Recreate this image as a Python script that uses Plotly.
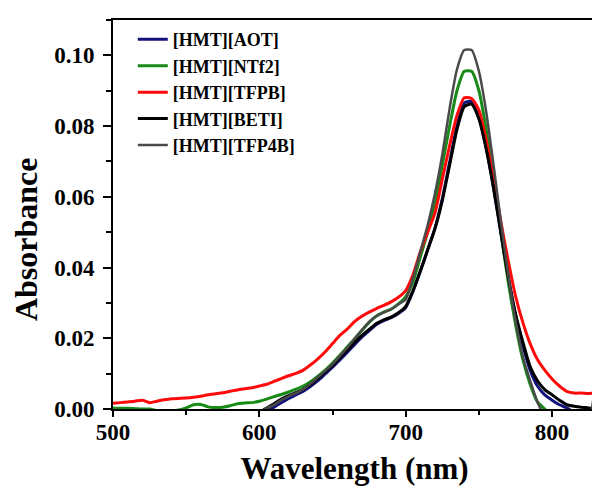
import plotly.graph_objects as go

# wavelength grid (nm)
wavelength = [
    500, 505, 510, 515, 520, 525, 530, 535, 540, 545,
    550, 555, 560, 565, 570, 575, 580, 585, 590, 595,
    600, 605, 610, 615, 620, 625, 630, 635, 640, 645,
    650, 655, 660, 665, 670, 675, 680, 685, 690, 695,
    700, 705, 710, 715, 720, 725, 730, 735, 740, 745,
    750, 755, 760, 765, 770, 775, 780, 785, 790, 795,
    800, 805, 810, 815, 820, 825, 830,
]

abs_aot = [
    -0.003, -0.003, -0.003, -0.003, -0.003, -0.003, -0.003, -0.003, -0.003, -0.003,
    -0.003, -0.003, -0.003, -0.003, -0.003, -0.003, -0.003, -0.003, -0.003, -0.003,
    -0.0020, -0.0005, 0.0005, 0.0018, 0.0030, 0.0040, 0.0050, 0.0064, 0.0080, 0.0099,
    0.0118, 0.0139, 0.0160, 0.0182, 0.0203, 0.0221, 0.0239, 0.0250, 0.0258, 0.0270,
    0.0287, 0.0333, 0.0390, 0.0450, 0.0512, 0.0595, 0.0698, 0.0800, 0.0865, 0.0870,
    0.0825, 0.0738, 0.0625, 0.0498, 0.0372, 0.0265, 0.0180, 0.0110, 0.0065, 0.0040,
    0.0025, 0.0012, 0.0003, -0.0010, -0.0020, -0.0020, -0.0020,
]

abs_ntf2 = [
    0.0003, 0.0002, 0.0002, 0.0001, 0.0000, 0.0000, -0.0005, -0.0008, -0.0005, -0.0003,
    0.0003, 0.0012, 0.0013, 0.0006, 0.0004, 0.0005, 0.0009, 0.0015, 0.0017, 0.0018,
    0.0022, 0.0028, 0.0035, 0.0041, 0.0048, 0.0056, 0.0065, 0.0077, 0.0093, 0.0110,
    0.0130, 0.0152, 0.0175, 0.0198, 0.0222, 0.0245, 0.0263, 0.0274, 0.0282, 0.0297,
    0.0318, 0.0360, 0.0430, 0.0500, 0.0580, 0.0690, 0.0800, 0.0900, 0.0955, 0.0955,
    0.0900, 0.0790, 0.0650, 0.0500, 0.0360, 0.0240, 0.0140, 0.0070, 0.0020, 0.0000,
    -0.0020, -0.0030, -0.0030, -0.0030, -0.0030, -0.0030, -0.0030,
]

abs_tfpb = [
    0.0016, 0.0018, 0.0020, 0.0022, 0.0025, 0.0018, 0.0022, 0.0026, 0.0029, 0.0030,
    0.0031, 0.0033, 0.0036, 0.0040, 0.0043, 0.0046, 0.0050, 0.0054, 0.0057, 0.0060,
    0.0065, 0.0070, 0.0078, 0.0086, 0.0094, 0.0101, 0.0110, 0.0125, 0.0142, 0.0162,
    0.0185, 0.0208, 0.0226, 0.0247, 0.0262, 0.0274, 0.0284, 0.0293, 0.0303, 0.0316,
    0.0335, 0.0380, 0.0445, 0.0500, 0.0555, 0.0650, 0.0745, 0.0830, 0.0880, 0.0878,
    0.0845, 0.0760, 0.0650, 0.0530, 0.0420, 0.0320, 0.0245, 0.0185, 0.0140, 0.0110,
    0.0085, 0.0065, 0.0050, 0.0045, 0.0045, 0.0044, 0.0045,
]

abs_beti = [
    -0.003, -0.003, -0.003, -0.003, -0.003, -0.003, -0.003, -0.003, -0.003, -0.003,
    -0.003, -0.003, -0.003, -0.003, -0.003, -0.003, -0.003, -0.003, -0.003, -0.003,
    -0.0010, 0.0003, 0.0015, 0.0028, 0.0038, 0.0046, 0.0056, 0.0070, 0.0087, 0.0105,
    0.0124, 0.0145, 0.0166, 0.0188, 0.0208, 0.0225, 0.0242, 0.0252, 0.0260, 0.0272,
    0.0290, 0.0335, 0.0390, 0.0450, 0.0510, 0.0590, 0.0690, 0.0790, 0.0855, 0.0862,
    0.0820, 0.0735, 0.0625, 0.0500, 0.0375, 0.0270, 0.0190, 0.0120, 0.0080, 0.0055,
    0.0040, 0.0025, 0.0012, 0.0008, 0.0005, 0.0003, 0.0000,
]

abs_tfp4b = [
    -0.003, -0.003, -0.003, -0.003, -0.003, -0.003, -0.003, -0.003, -0.003, -0.003,
    -0.003, -0.003, -0.003, -0.003, -0.003, -0.003, -0.003, -0.003, -0.003, -0.003,
    -0.0010, 0.0002, 0.0012, 0.0025, 0.0036, 0.0045, 0.0056, 0.0072, 0.0090, 0.0108,
    0.0127, 0.0150, 0.0173, 0.0198, 0.0223, 0.0246, 0.0263, 0.0273, 0.0282, 0.0296,
    0.0310, 0.0370, 0.0445, 0.0520, 0.0610, 0.0720, 0.0850, 0.0960, 0.1015, 0.1015,
    0.0955, 0.0840, 0.0690, 0.0530, 0.0380, 0.0250, 0.0150, 0.0080, 0.0020, -0.0020,
    -0.0030, -0.0030, -0.0030, -0.0030, -0.0030, -0.0030, 0.0090,
]

series = [
    ("[HMT][AOT]", abs_aot, "#12127a", 3),
    ("[HMT][NTf2]", abs_ntf2, "#178a17", 3),
    ("[HMT][TFPB]", abs_tfpb, "#ff0a0a", 3),
    ("[HMT][BETI]", abs_beti, "#000000", 3),
    ("[HMT][TFP4B]", abs_tfp4b, "#4a4a4a", 2.5),
]

FONT = "Liberation Serif, Times New Roman, serif"

fig = go.Figure()
for name, y, color, w in series:
    fig.add_trace(go.Scatter(
        x=wavelength, y=y, name=name, mode="lines",
        line=dict(color=color, width=w, shape="spline", smoothing=0.6),
    ))

axis_common = dict(
    showline=True, linecolor="black", linewidth=2, mirror=True,
    ticks="outside", tickwidth=1.5, tickcolor="black",
    showgrid=False, zeroline=False,
)

fig.update_layout(
    width=600, height=495,
    margin=dict(l=105, r=10, t=10, b=94),
    paper_bgcolor="white", plot_bgcolor="white",
    font=dict(family=FONT, color="black"),
    showlegend=True,
    legend=dict(
        x=0.041, y=0.997, xanchor="left", yanchor="top",
        bgcolor="rgba(0,0,0,0)", tracegroupgap=0,
        font=dict(family=FONT, size=18, weight="bold", color="black"),
    ),
    xaxis=dict(
        range=[500, 830], dtick=100, tick0=500, ticklen=6,
        ticklabelstandoff=-5,
        tickfont=dict(family=FONT, size=23, weight="bold"),
        title=dict(text="Wavelength (nm)", font=dict(family=FONT, size=31, weight="bold"), standoff=14),
        minor=dict(dtick=50, ticks="outside", ticklen=4, tickcolor="black"),
        **axis_common,
    ),
    yaxis=dict(
        range=[0, 0.11], dtick=0.02, tick0=0, tickformat=".2f", ticklen=8,
        ticklabelstandoff=4,
        tickfont=dict(family=FONT, size=23, weight="bold"),
        minor=dict(dtick=0.01, ticks="outside", ticklen=5, tickcolor="black"),
        **axis_common,
    ),
    annotations=[dict(
        text="Absorbance", textangle=-90, showarrow=False,
        xref="paper", yref="paper", x=-0.18, y=0.437,
        xanchor="center", yanchor="middle",
        font=dict(family=FONT, size=32, weight="bold", color="black"),
    )],
)

fig.write_html("out.html")
